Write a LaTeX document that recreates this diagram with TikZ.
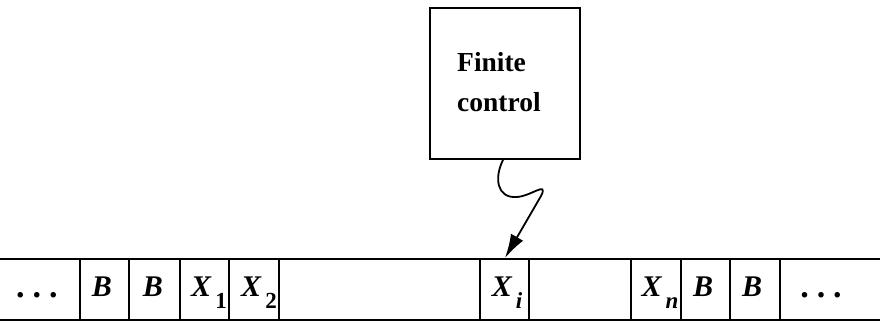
\documentclass[tikz,border=0pt]{standalone}
\usepackage{fontspec}
\setmainfont{Liberation Serif}
\usetikzlibrary{arrows.meta}
\newcommand{\subx}[1]{\raisebox{-12pt}{\fontsize{23}{23}\selectfont #1}}
\begin{document}
\begin{tikzpicture}[x=1pt,y=-1pt,
  thick line/.style={line width=2pt},
  tapetext/.style={anchor=base, inner sep=0pt, font=\fontsize{30}{30}\selectfont\bfseries\itshape},
  dotstext/.style={anchor=base, inner sep=0pt, font=\fontsize{34}{34}\selectfont\bfseries},
  boxtext/.style={anchor=base west, inner sep=0pt, font=\fontsize{27.5}{27.5}\selectfont\bfseries},
  ctrlbox/.style={draw, line width=2pt, minimum width=150pt, minimum height=151pt, inner sep=0pt}]
\useasboundingbox (0,0) rectangle (880,322);

% finite control
\node[ctrlbox] (fc) at (505,83.5) {};
\node[boxtext] (fin) at (457,71) {Finite};
\node[boxtext] (ctl) at (457,111) {control};

% tape
\draw[thick line] (0,259) -- (880,259);
\draw[thick line] (0,320) -- (880,320);
\foreach \xx in {80,129,180,229,279,480,529,631,681,730,780}
  \draw[thick line] (\xx,259) -- (\xx,320);

\node[dotstext] (d1) at (37,297) {.\kern8pt.\kern8pt.};
\node[tapetext] (b1) at (102,296) {B};
\node[tapetext] (b2) at (153,296) {B};
\node[tapetext] (x1) at (209,296) {X\kern4pt\subx{\upshape 1}};
\node[tapetext] (x2) at (259,296) {X\kern4pt\subx{\upshape 2}};
\node[tapetext] (xi) at (507,296) {X\kern4pt\subx{i}};
\node[tapetext] (xn) at (660,296) {X\kern4pt\subx{n}};
\node[tapetext] (b3) at (703,296) {B};
\node[tapetext] (b4) at (752,296) {B};
\node[dotstext] (d2) at (821,297) {.\kern8pt.\kern8pt.};

% head arrow
\coordinate (tip) at (505,258);
\draw[line width=1.8pt, -{Latex[length=24pt,width=14pt]}]
  ([xshift=-2pt]fc.south) .. controls (494,178) and (497,198) .. (516,197)
  .. controls (530,197) and (549,180) .. (541,196) -- (tip);
\end{tikzpicture}
\end{document}
